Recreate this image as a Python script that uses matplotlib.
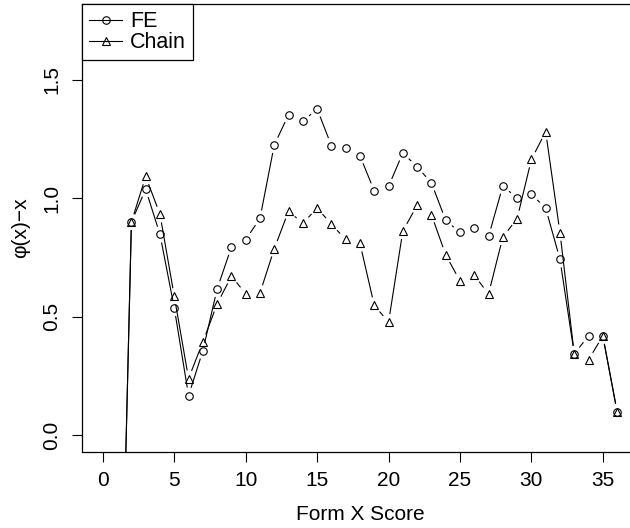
import numpy as np
import matplotlib
matplotlib.use("Agg")
import matplotlib.pyplot as plt

plt.rcParams['font.family'] = ['Liberation Sans', 'DejaVu Sans']

# Form X scores and phi(x) - x for each method
scores = list(range(1, 37))
fe = [-1.59, 0.90, 1.038, 0.847, 0.537, 0.167, 0.356, 0.617, 0.794, 0.825,
      0.915, 1.225, 1.353, 1.325, 1.377, 1.222, 1.211, 1.179, 1.031, 1.050,
      1.191, 1.133, 1.065, 0.907, 0.856, 0.876, 0.839, 1.052, 1.001, 1.017,
      0.958, 0.742, 0.343, 0.419, 0.419, 0.099]
chain = [-1.59, 0.90, 1.092, 0.932, 0.586, 0.239, 0.393, 0.554, 0.671, 0.597,
         0.600, 0.787, 0.946, 0.894, 0.959, 0.890, 0.826, 0.809, 0.548, 0.477,
         0.862, 0.970, 0.931, 0.761, 0.651, 0.675, 0.596, 0.836, 0.914, 1.164,
         1.281, 0.855, 0.343, 0.318, 0.419, 0.099]

xticks = [0, 5, 10, 15, 20, 25, 30, 35]
yticks = [0.0, 0.5, 1.0, 1.5]
ytick_labels = ["0.0", "0.5", "1.0", "1.5"]

fig = plt.figure(figsize=(6.3, 5.28), dpi=100)
ax = fig.add_axes([0.1306, 0.1445, 0.8816, 0.8479])
ax.set_xlim(-1.44, 37.44)
ax.set_ylim(-0.07, 1.82)


def gapped(ax, x, y, gap_px=8.7, **kw):
    # R type="b": line segments stop short of each point
    pts = ax.transData.transform(np.column_stack([x, y]))
    inv = ax.transData.inverted()
    for p0, p1 in zip(pts[:-1], pts[1:]):
        d = p1 - p0
        L = np.hypot(*d)
        if L <= 2 * gap_px:
            continue
        u = d / L
        a = inv.transform(p0 + u * gap_px)
        b = inv.transform(p1 - u * gap_px)
        ax.plot([a[0], b[0]], [a[1], b[1]], **kw)


lw = 0.8
gapped(ax, scores, fe, color="black", lw=lw)
gapped(ax, scores, chain, color="black", lw=lw)
ax.plot(scores, fe, linestyle="none", marker="o", ms=5.4, mfc="none",
        mec="black", mew=0.8)
ax.plot(scores, chain, linestyle="none", marker="^", ms=6.4, mfc="none",
        mec="black", mew=0.8)

# legend handles
h1, = ax.plot([], [], color="black", lw=lw, marker="o", ms=5.4, mfc="none",
              mec="black", mew=0.8)
h2, = ax.plot([], [], color="black", lw=lw, marker="^", ms=6.4, mfc="none",
              mec="black", mew=0.8)
leg = ax.legend([h1, h2], ["FE", "Chain"], loc="upper left",
                bbox_to_anchor=(0, 1), borderaxespad=0, fancybox=False,
                framealpha=1, edgecolor="black", fontsize=15.5,
                handlelength=1.5, handletextpad=0.4, borderpad=0.33,
                labelspacing=0.0)
leg.get_frame().set_linewidth(0.9)

ax.set_xticks(xticks)
ax.set_yticks(yticks)
ax.set_yticklabels(ytick_labels)
ax.tick_params(axis="both", labelsize=15, length=7, width=0.8, pad=7,
               direction="out")
ax.tick_params(axis="y", labelrotation=90, pad=8)
for t in ax.get_yticklabels():
    t.set_va("center")

for s in ax.spines.values():
    s.set_linewidth(0.9)

ax.set_xlabel("Form X Score", fontsize=15, labelpad=11)
ax.set_ylabel("φ(x)−x", fontsize=15, labelpad=9)

fig.savefig("out.png", dpi=100)
